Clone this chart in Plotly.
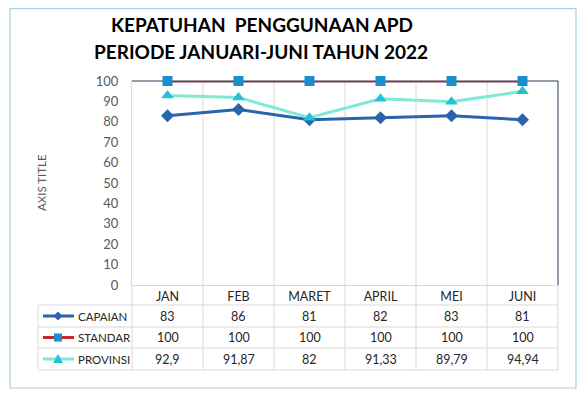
import plotly.graph_objects as go

categories = ["JAN", "FEB", "MARET", "APRIL", "MEI", "JUNI"]
capaian = [83, 86, 81, 82, 83, 81]
standar = [100, 100, 100, 100, 100, 100]
provinsi = [92.9, 91.87, 82, 91.33, 89.79, 94.94]
series_names = ["CAPAIAN", "STANDAR", "PROVINSI"]
y_ticks = [0, 10, 20, 30, 40, 50, 60, 70, 80, 90, 100]

# page has an 8px body margin: lay out in screen pixels, convert to figure
OFF = 8
W, H = 580, 391
L, R, T, B = 124, 30, 73, 114
PW = W - L - R
PH = H - T - B

def px(x):
    return (x - OFF - L) / PW

def py(y):
    return (H - B - (y - OFF)) / PH

FONT = "Lato"
GRID = "#D9D9D9"
TXT = "#262626"

col_line = ["#2A64AC", "#A8282C", "#7EEAD3"]
key_line = ["#2A64AC", "#C8282C", "#7EEAD3"]
col_mark = ["#2A64AC", "#1A8FD0", "#22C3D9"]
symbols = ["diamond", "square", "triangle-up"]
msize = [10, 10, 11]
data = [capaian, standar, provinsi]

fig = go.Figure()

for name, vals, cl, cm, sym, ms in zip(series_names, data, col_line, col_mark, symbols, msize):
    fig.add_trace(go.Scatter(
        x=categories, y=vals, name=name, mode="lines+markers",
        line=dict(color=cl, width=3),
        marker=dict(symbol=sym, size=ms, color=cm),
        cliponaxis=False, showlegend=False,
    ))

shapes = []
# outer border
shapes.append(dict(type="rect", xref="paper", yref="paper",
                   x0=px(10), x1=px(576), y0=py(388), y1=py(8.7),
                   line=dict(color="#A9D0E3", width=1.2), layer="below"))
# vertical gridlines through plot and table
for i in range(len(categories) - 1):
    shapes.append(dict(type="line", xref="x", yref="paper",
                       x0=i + 0.5, x1=i + 0.5, y0=py(370), y1=1,
                       line=dict(color=GRID, width=1), layer="below"))
# table left/right borders
shapes.append(dict(type="line", xref="paper", yref="paper", x0=px(38), x1=px(38),
                   y0=py(370), y1=py(305), line=dict(color=GRID, width=1)))
shapes.append(dict(type="line", xref="paper", yref="paper", x0=0, x1=0,
                   y0=py(370), y1=0, line=dict(color=GRID, width=1)))
shapes.append(dict(type="line", xref="paper", yref="paper", x0=1, x1=1,
                   y0=py(370), y1=0, line=dict(color=GRID, width=1)))
# table horizontal lines
for yy in [305, 327, 348, 370]:
    shapes.append(dict(type="line", xref="paper", yref="paper", x0=px(38), x1=1,
                       y0=py(yy), y1=py(yy), line=dict(color=GRID, width=1)))
# dark top/right plot border
shapes.append(dict(type="line", xref="paper", yref="paper", x0=0, x1=1, y0=1, y1=1,
                   line=dict(color="#1F3A5A", width=1), layer="below"))
shapes.append(dict(type="line", xref="paper", yref="paper", x0=1, x1=1, y0=0, y1=1,
                   line=dict(color="#1F3A5A", width=1), layer="below"))

# legend key marker paths (pixel-sized, y up)
key_paths = [
    "M 0 4.5 L 4.5 0 L 0 -4.5 L -4.5 0 Z",
    "M -4 -4 L 4 -4 L 4 4 L -4 4 Z",
    "M -5 -4 L 5 -4 L 0 5 Z",
]

row_y = [316, 337.5, 359]
annotations = []
for r, (name, vals) in enumerate(zip(series_names, data)):
    shapes.append(dict(type="line", xref="paper", yref="paper", x0=px(43), x1=px(74),
                       y0=py(row_y[r]), y1=py(row_y[r]),
                       line=dict(color=key_line[r], width=3)))
    shapes.append(dict(type="path", xref="paper", yref="paper",
                       xsizemode="pixel", ysizemode="pixel",
                       xanchor=px(58), yanchor=py(row_y[r]),
                       path=key_paths[r], fillcolor=col_mark[r],
                       line=dict(width=0)))
    annotations.append(dict(xref="paper", yref="paper", x=px(76), y=py(row_y[r]),
                            text=name, showarrow=False, xanchor="left", yanchor="middle",
                            font=dict(family=FONT, size=11.5, color=TXT)))
    for i, v in enumerate(vals):
        annotations.append(dict(xref="x", yref="paper", x=categories[i], y=py(row_y[r]),
                                text=f"{v:g}".replace(".", ","), showarrow=False,
                                xanchor="center", yanchor="middle",
                                font=dict(family=FONT, size=12.5, color=TXT)))

# titles
annotations.append(dict(xref="paper", yref="paper", x=px(262), y=py(24),
                        text="KEPATUHAN  PENGGUNAAN APD", showarrow=False,
                        xanchor="center", yanchor="middle",
                        font=dict(family=FONT, size=19, color="#000000", weight="bold")))
annotations.append(dict(xref="paper", yref="paper", x=px(261), y=py(51),
                        text="PERIODE JANUARI-JUNI TAHUN 2022", showarrow=False,
                        xanchor="center", yanchor="middle",
                        font=dict(family=FONT, size=19, color="#000000", weight="bold")))
annotations.append(dict(xref="paper", yref="paper", x=px(41), y=py(183),
                        text="AXIS TITLE", showarrow=False, textangle=-90,
                        xanchor="center", yanchor="middle",
                        font=dict(family=FONT, size=11.5, color="#595959")))

fig.update_layout(
    width=W, height=H,
    margin=dict(l=L, r=R, t=T, b=B, pad=0),
    paper_bgcolor="white", plot_bgcolor="white",
    shapes=shapes, annotations=annotations,
    xaxis=dict(type="category", range=[-0.5, 5.5], showgrid=False, zeroline=False,
               showline=True, linecolor=GRID, linewidth=1, ticks="",
               tickfont=dict(family=FONT, size=12.5, color=TXT), ticklabelstandoff=0),
    yaxis=dict(range=[0, 100], tickvals=y_ticks, showgrid=False, zeroline=False,
               showline=True, linecolor=GRID, linewidth=1, ticks="",
               tickfont=dict(family=FONT, size=13, color="#595959"), ticklabelstandoff=10),
    showlegend=False,
)

fig.write_html("out.html")
